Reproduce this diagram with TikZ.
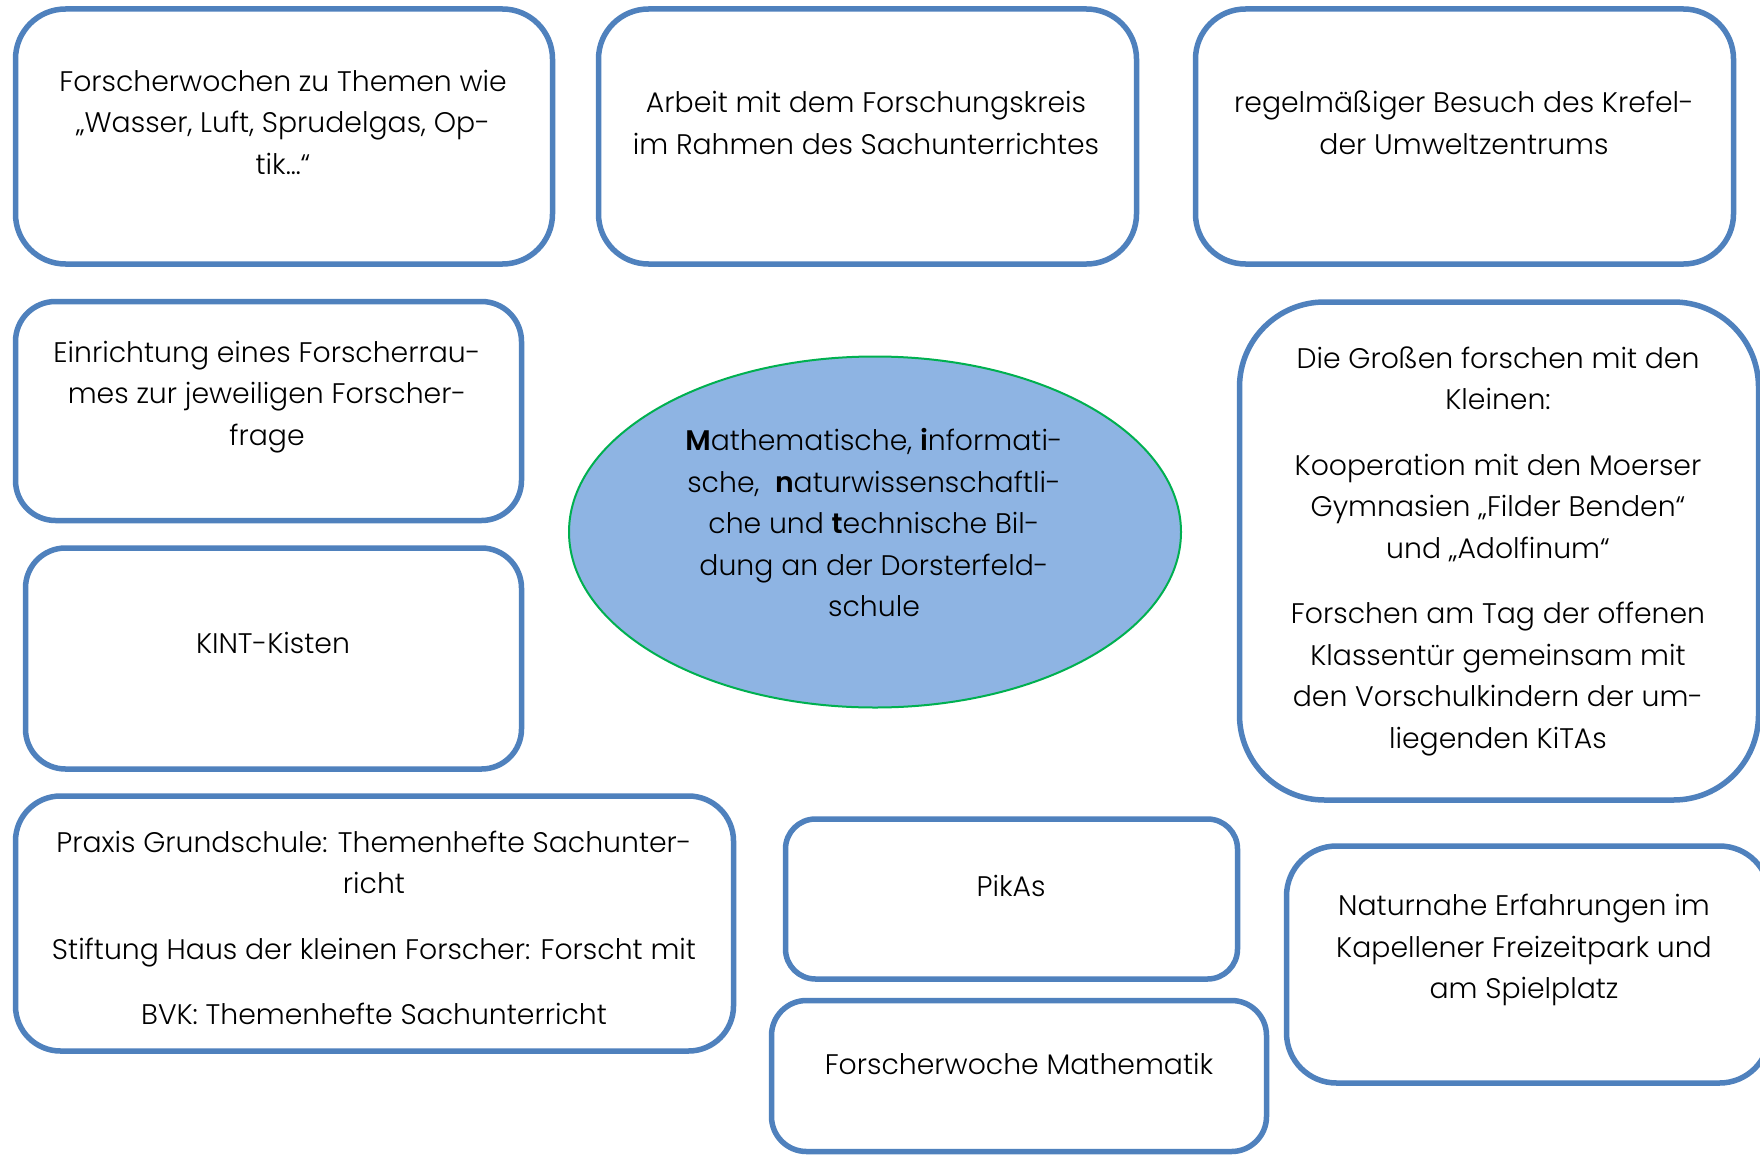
\documentclass[tikz,border=0pt]{standalone}
\usepackage{fontspec}
\setmainfont{Poppins}[UprightFont=* Light, BoldFont=* SemiBold]
\usetikzlibrary{shapes.geometric}
\definecolor{boxblue}{HTML}{4F81BD}
\definecolor{ovalfill}{HTML}{8EB4E3}
\definecolor{ovalgreen}{HTML}{00B050}
\tikzset{
  box/.style={draw=boxblue, line width=5.5pt, fill=white, rectangle, inner sep=0pt},
  txt/.style={align=center, inner sep=0pt, text=black,
    font=\fontsize{28.3}{41.5}\selectfont},
  oval/.style={ellipse, draw=ovalgreen, line width=2pt, fill=ovalfill, inner sep=0pt}
}
\begin{document}
\begin{tikzpicture}[x=1pt,y=-1pt]
\clip (0,0) rectangle (1760,1156);
\fill[white] (0,0) rectangle (1760,1156);

% top row
\node[box, minimum width=537pt, minimum height=255pt, rounded corners=50pt] (b1) at (284,136.5) {};
\node[txt] (t1) at (283,122) {Forscherwochen zu Themen wie\\„Wasser, Luft, Sprudelgas, Op-\\tik…“};

\node[box, minimum width=538pt, minimum height=255pt, rounded corners=50pt] (b2) at (867.5,136.5) {};
\node[txt] (t2) at (866,123) {Arbeit mit dem Forschungskreis\\im Rahmen des Sachunterrichtes};

\node[box, minimum width=538pt, minimum height=255pt, rounded corners=50pt] (b3) at (1464.5,136.5) {};
\node[txt] (t3) at (1464,123) {regelmäßiger Besuch des Krefel-\\der Umweltzentrums};

% left column
\node[box, minimum width=506pt, minimum height=219pt, rounded corners=40pt] (b4) at (268.5,411) {};
\node[txt] (t4) at (267,397) {Einrichtung eines Forscherrau-\\mes zur jeweiligen Forscher-\\frage};

\node[box, minimum width=496pt, minimum height=221pt, rounded corners=40pt] (b5) at (273.5,658.5) {};
\node[txt] (t5) at (273,643) {KINT-Kisten};

% centre
\node[oval, minimum width=612pt, minimum height=351pt] (ov) at (875,532) {};
\node[txt] (tov) at (874,523) {\textbf{M}athematische, \textbf{i}nformati-\\sche,\ \ \textbf{n}aturwissenschaftli-\\che und \textbf{t}echnische Bil-\\dung an der Dorsterfeld-\\schule};

% right column
\node[box, minimum width=519pt, minimum height=498pt, rounded corners=85pt] (b6) at (1499,551) {};
\node[txt] (t6) at (1498,551) {Die Großen forschen mit den\\Kleinen:\\[24pt]Kooperation mit den Moerser\\Gymnasien „Filder Benden“\\und „Adolfinum“\\[24pt]Forschen am Tag der offenen\\Klassentür gemeinsam mit\\den Vorschulkindern der um-\\liegenden KiTAs};

% bottom row
\node[box, minimum width=718pt, minimum height=255pt, rounded corners=45pt] (b7) at (374.5,923.5) {};
\node[txt] (t7) at (374,928) {Praxis Grundschule: Themenhefte Sachunter-\\richt\\[24pt]Stiftung Haus der kleinen Forscher: Forscht mit\\[24pt]BVK: Themenhefte Sachunterricht};

\node[box, minimum width=452pt, minimum height=160pt, rounded corners=30pt] (b8) at (1011.5,899) {};
\node[txt] (t8) at (1011,886) {PikAs};

\node[box, minimum width=495pt, minimum height=151pt, rounded corners=35pt] (b9) at (1019,1076) {};
\node[txt] (t9) at (1019,1064) {Forscherwoche Mathematik};

\node[box, minimum width=483pt, minimum height=237pt, rounded corners=50pt] (b10) at (1528,964.5) {};
\node[txt] (t10) at (1524,950) {Naturnahe Erfahrungen im\\Kapellener Freizeitpark und\\am Spielplatz};
\end{tikzpicture}
\end{document}
